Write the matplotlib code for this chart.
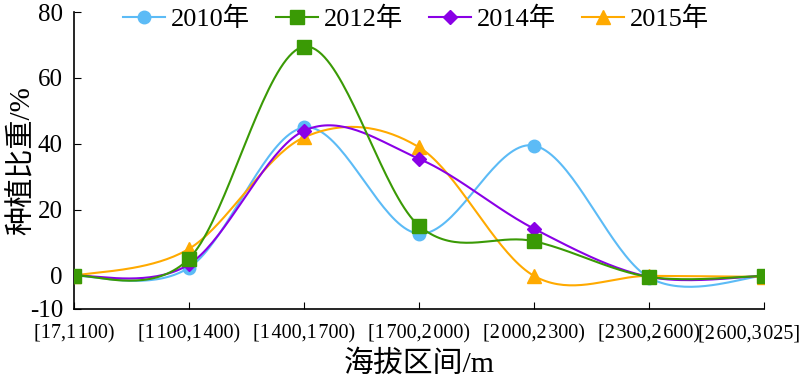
import numpy as np
import matplotlib
matplotlib.use("Agg")
import matplotlib.pyplot as plt
import matplotlib.transforms as mtransforms
from matplotlib.lines import Line2D

plt.rcParams['font.family'] = ['Liberation Serif', 'Noto Sans CJK SC', 'DejaVu Sans']
plt.rcParams['axes.unicode_minus'] = False

# Data
categories = ['[17,1\u200a100)', '[1\u200a100,1\u200a400)', '[1\u200a400,1\u200a700)',
              '[1\u200a700,2\u200a000)', '[2\u200a000,2\u200a300)', '[2\u200a300,2\u200a600)',
              '[2\u200a600,3\u200a025]']
share_2010 = [0.0, 2.5, 45.0, 12.8, 39.5, -0.5, 0.0]
share_2012 = [0.0, 5.2, 69.5, 15.2, 10.5, -0.3, 0.0]
share_2014 = [0.0, 3.5, 44.0, 35.5, 14.3, -0.3, 0.0]
share_2015 = [0.0, 8.2, 42.0, 39.0, 0.0, 0.0, -0.3]
years = ['2010年', '2012年', '2014年', '2015年']


def smooth(y, n=40):
    """Excel-like smoothed line: cubic Bezier through the points"""
    x = np.arange(len(y), dtype=float)
    y = np.asarray(y, dtype=float)
    px = np.concatenate([[x[0]], x, [x[-1]]])
    py = np.concatenate([[y[0]], y, [y[-1]]])
    xs, ys = [], []
    t = np.linspace(0, 1, n)
    for i in range(len(y) - 1):
        p0 = np.array([x[i], y[i]])
        p3 = np.array([x[i + 1], y[i + 1]])
        c1 = p0 + (np.array([px[i + 2], py[i + 2]]) - np.array([px[i], py[i]])) / 6
        c2 = p3 - (np.array([px[i + 3], py[i + 3]]) - np.array([px[i + 1], py[i + 1]])) / 6
        b = ((1 - t) ** 3)[:, None] * p0 + (3 * (1 - t) ** 2 * t)[:, None] * c1 \
            + (3 * (1 - t) * t ** 2)[:, None] * c2 + (t ** 3)[:, None] * p3
        xs.append(b[:, 0])
        ys.append(b[:, 1])
    return np.concatenate(xs), np.concatenate(ys)


fig = plt.figure(figsize=(8, 3.88), dpi=100)
ax = fig.add_axes([0.0925, 0.204, 0.8625, 0.765])

series = [
    (share_2010, '#5CBBF6', 'o', 9, 2),
    (share_2012, '#3A9A05', 's', 9.5, 5),
    (share_2014, '#8A00E6', 'D', 7.5, 4),
    (share_2015, '#FFAA00', '^', 10, 3),
]

handles = []
x = np.arange(len(categories))
for (vals, color, marker, ms, z), label in zip(series, years):
    sx, sy = smooth(vals)
    ax.plot(sx, sy, color=color, lw=1.5, zorder=z)
    ax.plot(x, vals, ls='none', marker=marker, ms=ms, color=color, zorder=z + 0.5)
    handles.append(Line2D([], [], color=color, lw=1.5, marker=marker, ms=ms, label=label))

ax.set_xlim(0, 6)
ax.set_ylim(-10, 80)
ax.set_yticks([-10, 0, 20, 40, 60, 80])
ax.set_xticks(x)
ax.set_xticklabels(categories, fontsize=14.5)
ax.tick_params(axis='y', direction='in', length=5, labelsize=18, pad=8)
ax.tick_params(axis='x', direction='in', length=5, pad=11)
ax.spines['top'].set_visible(False)
ax.spines['right'].set_visible(False)
for s in ('left', 'bottom'):
    ax.spines[s].set_linewidth(1.2)

# last label is pulled in a little so it stays inside the figure
last = ax.get_xticklabels()[-1]
last.set_transform(last.get_transform() + mtransforms.ScaledTranslation(-15 / 100, 0, fig.dpi_scale_trans))

ax.set_xlabel('海拔区间/m', fontsize=21.5, labelpad=5)
ax.set_ylabel('种植比重/%', fontsize=21)
ax.yaxis.set_label_coords(-0.056, 0.5)

fig.legend(handles=handles, loc='center', bbox_to_anchor=(0.52, 0.952), ncol=4,
           frameon=False, fontsize=19, handlelength=1.6, handletextpad=0.2,
           columnspacing=1.0)

plt.savefig('out.png', dpi=100)
